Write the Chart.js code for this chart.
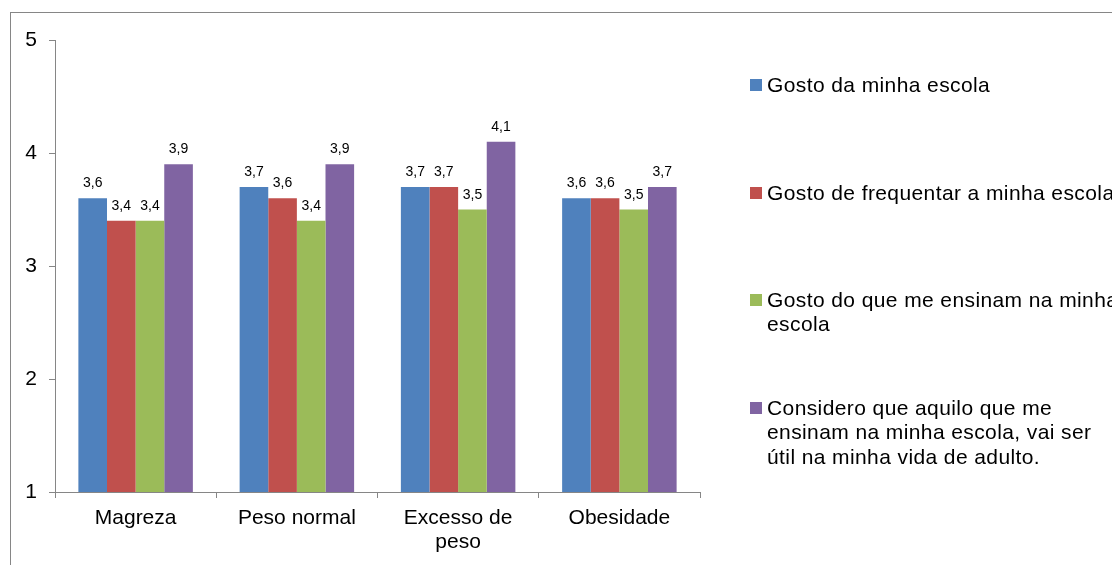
<!DOCTYPE html>
<html>
<head>
<meta charset="utf-8">
<script src="https://cdn.jsdelivr.net/npm/chart.js@4/dist/chart.umd.min.js"></script>
<style>
  html, body { margin: 0; padding: 0; background: #fff; }
  #wrap { width: 1112px; height: 565px; position: relative; }
</style>
</head>
<body>
<div id="wrap"><canvas id="chart"></canvas></div>
<script>
const categories = ["Magreza", "Peso normal", ["Excesso de", "peso"], "Obesidade"];

// legend text already wrapped like in the picture
const seriesNames = [
  ["Gosto da minha escola"],
  ["Gosto de frequentar a minha escola"],
  ["Gosto do que me ensinam na minha", "escola"],
  ["Considero que aquilo que me", "ensinam na minha escola, vai ser", "útil na minha vida de adulto."]
];

const gostoEscola = [3.6, 3.7, 3.7, 3.6];
const gostoFrequentar = [3.4, 3.6, 3.7, 3.6];
const gostoEnsinam = [3.4, 3.4, 3.5, 3.5];
const utilVida = [3.9, 3.9, 4.1, 3.7];

const seriesColors = ["#4F81BD", "#C0504D", "#9BBB59", "#8064A2"];
const yTicks = [1, 2, 3, 4, 5];

const FONT = "'Liberation Sans', Arial, sans-serif";

// outer frame of the chart object (runs off the right/bottom edge)
const framePlugin = {
  id: "frame",
  beforeDraw(chart) {
    const ctx = chart.ctx;
    ctx.save();
    ctx.fillStyle = "#fff";
    ctx.fillRect(0, 0, chart.width, chart.height);
    ctx.strokeStyle = "#868686";
    ctx.lineWidth = 1;
    ctx.strokeRect(10.5, 12.5, chart.width + 20, chart.height + 20);
    ctx.restore();
  }
};

// value labels on top of bars
const valueLabels = {
  id: "valueLabels",
  afterDatasetsDraw(chart) {
    const ctx = chart.ctx;
    ctx.save();
    ctx.font = "14px " + FONT;
    ctx.fillStyle = "#000";
    ctx.textAlign = "center";
    ctx.textBaseline = "alphabetic";
    chart.data.datasets.forEach((ds, i) => {
      chart.getDatasetMeta(i).data.forEach((bar, j) => {
        ctx.fillText(String(ds.data[j]).replace(".", ","), bar.x, bar.y - 11);
      });
    });
    ctx.restore();
  }
};

// legend on the right with wrapped labels
const sideLegend = {
  id: "sideLegend",
  afterDraw(chart) {
    const ctx = chart.ctx;
    const tops = [79, 187, 294, 402];
    ctx.save();
    ctx.font = "21px " + FONT;
    ctx.letterSpacing = "0.4px";
    ctx.textBaseline = "middle";
    ctx.textAlign = "left";
    seriesNames.forEach((lines, i) => {
      const y = tops[i];
      ctx.fillStyle = seriesColors[i];
      ctx.fillRect(750, y, 12, 12);
      ctx.fillStyle = "#000";
      lines.forEach((line, k) => {
        ctx.fillText(line, 767, y + 7 + k * 24.5);
      });
    });
    ctx.restore();
  }
};

const seriesData = [gostoEscola, gostoFrequentar, gostoEnsinam, utilVida];

new Chart(document.getElementById("chart"), {
  type: "bar",
  data: {
    labels: categories,
    datasets: seriesData.map((d, i) => ({
      label: seriesNames[i].join(" "),
      data: d,
      backgroundColor: seriesColors[i],
      borderWidth: 0,
      categoryPercentage: 0.71,
      barPercentage: 1
    }))
  },
  options: {
    responsive: true,
    maintainAspectRatio: false,
    animation: false,
    devicePixelRatio: 1,
    layout: { padding: { left: 0, top: 40, right: 412, bottom: 0 } },
    plugins: {
      legend: { display: false },
      tooltip: { enabled: false }
    },
    scales: {
      x: {
        grid: {
          drawOnChartArea: false,
          tickLength: 6,
          color: "#868686",
          offset: true
        },
        border: { color: "#868686", width: 1 },
        ticks: {
          color: "#000",
          font: { family: FONT, size: 21, lineHeight: 1.15 },
          padding: 8,
          maxRotation: 0,
          autoSkip: false
        },
        afterFit(scale) { scale.height = 73; }
      },
      y: {
        min: 1,
        max: 5,
        afterBuildTicks(scale) {
          scale.ticks = yTicks.map(v => ({ value: v }));
        },
        grid: {
          drawOnChartArea: false,
          tickLength: 6,
          color: "#868686"
        },
        border: { color: "#868686", width: 1 },
        ticks: {
          color: "#000",
          font: { family: FONT, size: 21 },
          padding: 12
        },
        afterFit(scale) { scale.width = 55; }
      }
    }
  },
  plugins: [framePlugin, valueLabels, sideLegend]
});
</script>
</body>
</html>
